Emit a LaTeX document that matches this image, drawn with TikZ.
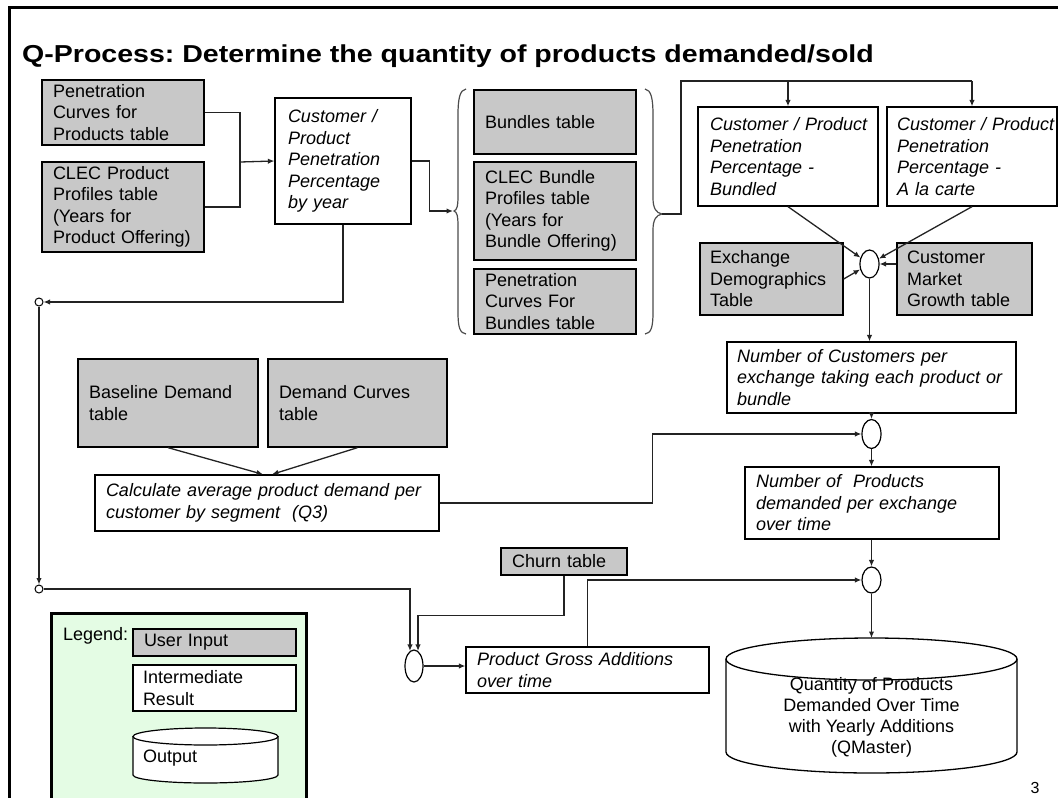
\documentclass[tikz,border=0pt]{standalone}
\usepackage{fontspec}
\setmainfont{Liberation Sans}
\usetikzlibrary{arrows.meta,calc,shapes.geometric}
\definecolor{inputgray}{RGB}{200,200,200}
\definecolor{legendgreen}{RGB}{228,252,228}
\definecolor{linegray}{RGB}{35,35,35}
\newcommand\bodyfont{\fontsize{18}{21.5}\selectfont\hyphenpenalty=10000 \hbadness=10000 \hfuzz=20pt }
\frenchspacing

\tikzset{
  box/.style={draw=black, line width=1.3pt, rectangle, inner xsep=11pt, inner ysep=0pt,
              align=left, font=\bodyfont},
  inbox/.style={box, fill=inputgray},
  resbox/.style={box, fill=white, font=\bodyfont\itshape},
  flow/.style={draw=linegray, line width=1.3pt, -{Latex[length=6.5pt,width=5.5pt]}},
  wire/.style={draw=linegray, line width=1.3pt},
  joiner/.style={draw=black, line width=1.2pt, ellipse, fill=white, inner sep=0pt},
  tap/.style={draw=black, line width=1pt, circle, fill=white, minimum size=8pt, inner sep=0pt},
  bracket/.style={draw=black!70, line width=1.2pt},
}

\begin{document}
\begin{tikzpicture}[x=1pt, y=-1pt]
\useasboundingbox (0,0) rectangle (1058,798);
\clip (0,0) rectangle (1058,798);

% slide frame
\draw[line width=3pt] (9,800) -- (9,7) -- (1060,7);

% title
\node[anchor=base west, inner sep=0pt] (title) at (22,62)
  {\scalebox{1.165}[1]{\fontsize{24.5}{24.5}\selectfont\bfseries Q-Process: Determine the quantity of products demanded/sold}};

% product inputs
\node[inbox, minimum width=162pt, minimum height=65pt, text width=140pt] (pcp) at (123,112.5)
  {Penetration\\Curves for\\Products table};
\node[inbox, minimum width=162pt, minimum height=90pt, text width=140pt] (clecp) at (123,207)
  {CLEC Product\\Profiles table\\(Years for\\\mbox{Product Offering)}};
\node[resbox, inner xsep=13pt, minimum width=136pt, minimum height=126pt, text width=110pt] (cpp) at (343,161)
  {Customer /\\Product\\Penetration\\Percentage\\by year};

% bundle inputs
\node[inbox, minimum width=162pt, minimum height=64pt, text width=140pt] (bund) at (555,122)
  {Bundles table};
\node[inbox, minimum width=162pt, minimum height=98pt, text width=140pt] (clecb) at (555,211)
  {CLEC Bundle\\Profiles table\\(Years for\\\mbox{Bundle Offering)}};
\node[inbox, minimum width=162pt, minimum height=65pt, text width=140pt] (pcb) at (555,301.5)
  {Penetration\\Curves For\\Bundles table};

% braces around the bundle inputs
\coordinate (lbt) at (453,211);
\coordinate (rbt) at (662,214);
\draw[bracket] (466,89) .. controls (460,90) and (458,98) .. (458,115) -- (458,196)
  .. controls (458,206) and (457,210) .. (454,211)
  .. controls (457,212) and (458,216) .. (458,226) -- (458,312)
  .. controls (458,328) and (460,333) .. (466,334);
\draw[bracket] (645,89) .. controls (651,90) and (653,98) .. (653,115) -- (653,198)
  .. controls (653,208) and (656,213) .. (rbt)
  .. controls (656,215) and (653,220) .. (653,230) -- (653,312)
  .. controls (653,328) and (651,333) .. (645,334);

% penetration split
\node[resbox, inner xsep=12pt, minimum width=180pt, minimum height=99pt, text width=156pt] (cppb) at (788,156.5)
  {\mbox{Customer / Product}\\Penetration\\Percentage -\\Bundled};
\node[resbox, inner xsep=10pt, minimum width=170pt, minimum height=99pt, text width=150pt] (cppa) at (972,156.5)
  {\mbox{Customer / Product}\\Penetration\\Percentage -\\A la carte};

\node[inbox, inner xsep=10pt, minimum width=143pt, minimum height=72pt, text width=123pt] (exd) at (771.5,279)
  {Exchange\\\mbox{Demographics}\\Table};
\node[inbox, inner xsep=10pt, minimum width=135pt, minimum height=72pt, text width=115pt] (cmg) at (964.5,279)
  {Customer\\Market\\Growth table};
\node[joiner, minimum width=19pt, minimum height=28pt] (e1) at (869.5,264) {};

\node[resbox, inner xsep=10pt, minimum width=289pt, minimum height=71pt, text width=269pt] (noc) at (871.5,377.5)
  {Number of Customers per\\\mbox{exchange taking each product or}\\bundle};
\node[joiner, minimum width=19pt, minimum height=29pt] (e2) at (871.5,434) {};
\node[resbox, minimum width=254pt, minimum height=72pt, text width=232pt] (nop) at (872,503)
  {Number of~~Products\\demanded per exchange\\over time};
\node[joiner, minimum width=19pt, minimum height=26pt] (e3) at (871.5,580) {};

% demand inputs
\node[inbox, minimum width=180pt, minimum height=88pt, text width=158pt] (bdt) at (168,403)
  {Baseline Demand\\table};
\node[inbox, minimum width=179pt, minimum height=88pt, text width=157pt] (dct) at (357.5,403)
  {Demand Curves\\table};
\node[resbox, minimum width=344pt, minimum height=56pt, text width=322pt] (avgd) at (267,503)
  {\mbox{Calculate average product demand per}\\customer by segment~~(Q3)};

% churn and gross additions
\node[inbox, minimum width=126pt, minimum height=27pt, text width=104pt] (churn) at (564,561.5)
  {Churn table};
\node[joiner, minimum width=18pt, minimum height=32pt] (e4) at (414,666) {};
\node[resbox, minimum width=243pt, minimum height=46pt, text width=221pt] (pga) at (587.5,670)
  {Product Gross Additions\\over time};

\node[tap] (c1) at (39,302) {};
\node[tap] (c2) at (39,589) {};

% output store
\fill[white] (726,659) -- (726,752) arc[start angle=180, end angle=360, x radius=145.5pt, y radius=21pt]
  -- (1017,659) arc[start angle=0, end angle=180, x radius=145.5pt, y radius=21pt] -- cycle;
\draw[line width=1.3pt] (726,659) -- (726,752)
  arc[start angle=180, end angle=360, x radius=145.5pt, y radius=21pt] -- (1017,659);
\draw[line width=1.3pt] (871.5,659) ellipse [x radius=145.5pt, y radius=21pt];
\coordinate (qmtop) at (871.5,638);
\node[align=center, font=\fontsize{18}{21}\selectfont, inner sep=0pt] (qm) at (871.5,717)
  {Quantity of Products\\Demanded Over Time\\with Yearly Additions\\(QMaster)};

% connectors
\coordinate (j1) at (240,162);
\draw[wire] (pcp.east) -| (j1);
\draw[wire] (clecp.east) -| (j1);
\draw[flow] (j1) -- (cpp.west);
\draw[flow] (cpp.east) -- ++(18,0) |- (lbt);

\coordinate (bus) at (681,81);
\draw[wire] (rbt) -| (bus) -- (bus -| cppa.north);
\draw[flow] (bus -| cppb.north) -- (cppb.north);
\draw[flow] (bus -| cppa.north) -- (cppa.north);

\draw[flow] (cppb.south) -- (e1);
\draw[flow] (cppa.south) -- (e1);
\draw[flow] (exd.east) -- (e1);
\draw[flow] (e1.east -| cmg.west) -- (e1.east);
\draw[flow] (e1.south) -- (e1.south |- noc.north);

\draw[flow] (noc.south -| e2.north) -- (e2.north);
\draw[flow] (avgd.east) -- ++(213,0) |- (e2.west);
\draw[flow] (e2.south) -- (e2.south |- nop.north);
\draw[flow] (nop.south -| e3.north) -- (e3.north);
\draw[flow] (pga.north) |- (e3.west);
\draw[flow] (e3.south) -- (qmtop);

\draw[flow] (bdt.south) -- ([xshift=-4pt]avgd.north);
\draw[flow] (dct.south) -- ([xshift=5pt]avgd.north);

\draw[flow] (cpp.south) |- (c1.east);
\draw[flow] (c1.south) -- (c2.north);
\draw[flow] (c2.east) -| (e4.105);
\draw[flow] (churn.south) -- ++(0,40) -| (e4.75);
\draw[flow] (e4.east) -- (e4.east -| pga.west);

% legend
\node[draw=black, line width=2.5pt, fill=legendgreen, minimum width=255pt, minimum height=210pt,
      anchor=north west, inner sep=0pt] (legend) at (50,612) {};
\node[anchor=west, font=\bodyfont, inner sep=0pt] (legtitle) at (63,636) {Legend:};
\node[inbox, minimum width=163pt, minimum height=27pt, text width=141pt] (lui) at (214.5,642.5)
  {User Input};
\node[box, inner xsep=10pt, fill=white, minimum width=163pt, minimum height=46pt, text width=143pt] (lir) at (214.5,688)
  {Intermediate\\Result};
\fill[white] (133,736.5) -- (133,775) arc[start angle=180, end angle=360, x radius=72.5pt, y radius=8pt]
  -- (278,736.5) arc[start angle=0, end angle=180, x radius=72.5pt, y radius=8.5pt] -- cycle;
\draw[line width=1.2pt] (133,736.5) -- (133,775)
  arc[start angle=180, end angle=360, x radius=72.5pt, y radius=8pt] -- (278,736.5);
\draw[line width=1.2pt] (205.5,736.5) ellipse [x radius=72.5pt, y radius=8.5pt];
\node[anchor=west, font=\bodyfont, inner sep=0pt] (lout) at (143,758) {Output};

% page number
\node[font=\fontsize{16}{16}\selectfont, inner sep=0pt] (pg) at (1035,788) {3};
\end{tikzpicture}
\end{document}
